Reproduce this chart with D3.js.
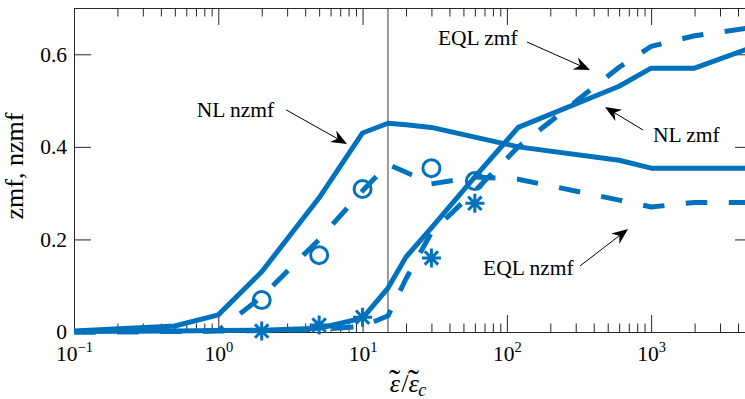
<!DOCTYPE html>
<html>
<head>
<meta charset="utf-8">
<script src="https://cdn.jsdelivr.net/npm/d3@7"></script>
<style>
  html, body { margin: 0; padding: 0; background: #fff; }
  svg { display: block; }
  text { font-family: "Liberation Serif", "Times New Roman", serif; fill: #000; }
</style>
</head>
<body>
<svg id="chart" width="745" height="399"></svg>
<script>
// Strain ratio sampled along each model curve
const strainRatio = [0.1, 0.5, 1, 2, 5, 10, 15, 20, 30, 60, 120, 600, 1000, 2000, 5000];

// Nonlinear model curves (solid)
const nlZmf  = [0.001, 0.002, 0.003, 0.004, 0.008, 0.030, 0.095, 0.162, 0.225, 0.335, 0.442, 0.531, 0.570, 0.570, 0.615];
const nlNzmf = [0.002, 0.013, 0.037, 0.130, 0.290, 0.430, 0.451, 0.448, 0.442, 0.421, 0.400, 0.371, 0.354, 0.354, 0.354];

// Equivalent-linear model curves (dashed)
const eqlZmf  = [0.000, 0.001, 0.002, 0.003, 0.006, 0.012, 0.035, 0.115, 0.215, 0.305, 0.400, 0.572, 0.617, 0.640, 0.658];
const eqlNzmf = [0.000, 0.001, 0.003, 0.076, 0.200, 0.305, 0.362, 0.345, 0.320, 0.335, 0.330, 0.285, 0.270, 0.280, 0.280];

// Discrete results shown as markers
const markerRatio = [2, 5, 10, 30, 60];
const eqlNzmfPts  = [0.069, 0.166, 0.309, 0.354, 0.326];   // circles
const eqlZmfPts   = [0.002, 0.015, 0.032, 0.160, 0.278];   // asterisks

// Reference strain ratio (vertical line)
const refRatio = 15;

// Axis ticks
const xMajorTicks = [0.1, 1, 10, 100, 1000];
const yTicks = [0, 0.2, 0.4, 0.6];
const yTickLabels = ["0", "0.2", "0.4", "0.6"];

// Curve annotations: label anchor, arrow start and arrow tip in data units
const notes = [
  { text: "NL nzmf",  at: [0.71, 0.4645], from: [2.95, 0.480], to: [7.8, 0.406] },
  { text: "EQL zmf",  at: [33.3, 0.620],  from: [138, 0.6265], to: [377, 0.566] },
  { text: "NL zmf",   at: [1030, 0.4105], from: [879, 0.4364], to: [479, 0.486] },
  { text: "EQL nzmf", at: [68.4, 0.123],  from: [321, 0.1426], to: [692, 0.2225] }
];

const blue = "#0072BD";
const axisColor = "#262626";
const plot = { left: 74, right: 752, top: 8, bottom: 332 };

const svg = d3.select("#chart");

const x = d3.scaleLog().domain([0.1, 5000]).range([plot.left, plot.right]);
const y = d3.scaleLinear().domain([0, 0.7]).range([plot.bottom, plot.top]);

// minor ticks 2..9 in each decade
const xMinorTicks = [];
for (let e = -1; e <= 3; e++) {
  for (let m = 2; m <= 9; m++) {
    const v = m * Math.pow(10, e);
    if (v <= 5000) xMinorTicks.push(v);
  }
}

function styleAxis(g) {
  g.selectAll("path.domain").attr("stroke", axisColor).attr("stroke-width", 1);
  g.selectAll(".tick line").attr("stroke", axisColor).attr("stroke-width", 1);
}

// reference line
svg.append("line")
  .attr("x1", x(refRatio)).attr("x2", x(refRatio))
  .attr("y1", plot.top).attr("y2", plot.bottom)
  .attr("stroke", "#3a3a3a").attr("stroke-width", 1);

// bottom axis
const gBottom = svg.append("g").attr("transform", `translate(0,${plot.bottom})`);
gBottom.append("g")
  .call(d3.axisBottom(x).tickValues(xMinorTicks).tickSize(-8.5).tickSizeOuter(0).tickFormat(""))
  .call(styleAxis);
const gBottomMajor = gBottom.append("g")
  .call(d3.axisBottom(x).tickValues(xMajorTicks).tickSize(-17).tickSizeOuter(0).tickPadding(0))
  .call(styleAxis);
gBottomMajor.selectAll(".tick text")
  .attr("font-size", 21.5)
  .attr("font-family", "Liberation Serif, Times New Roman, serif")
  .attr("fill", "#000")
  .attr("y", 29).attr("dy", 0)
  .each(function (d) {
    const t = d3.select(this);
    const expo = Math.round(Math.log10(d));
    t.text(null);
    t.append("tspan").text("10");
    t.append("tspan").attr("dy", -9).attr("font-size", 14.5)
      .text(expo < 0 ? "\u2212" + Math.abs(expo) : String(expo));
  });

// top axis
const gTop = svg.append("g").attr("transform", `translate(0,${plot.top})`);
gTop.append("g")
  .call(d3.axisTop(x).tickValues(xMinorTicks).tickSize(-8.5).tickSizeOuter(0).tickFormat(""))
  .call(styleAxis);
gTop.append("g")
  .call(d3.axisTop(x).tickValues(xMajorTicks).tickSize(-17).tickSizeOuter(0).tickFormat(""))
  .call(styleAxis);

// left axis
const gLeft = svg.append("g").attr("transform", `translate(${plot.left},0)`)
  .call(d3.axisLeft(y).tickValues(yTicks).tickSize(-17).tickSizeOuter(0).tickPadding(7)
    .tickFormat((d, i) => yTickLabels[i]))
  .call(styleAxis);
gLeft.selectAll(".tick text")
  .attr("font-size", 21.5)
  .attr("font-family", "Liberation Serif, Times New Roman, serif")
  .attr("fill", "#000");

// right axis
svg.append("g").attr("transform", `translate(${plot.right},0)`)
  .call(d3.axisRight(y).tickValues(yTicks).tickSize(-17).tickSizeOuter(0).tickFormat(""))
  .call(styleAxis);

// curves
const line = d3.line().x(d => x(d[0])).y(d => y(d[1]));
const zip = vals => strainRatio.map((r, i) => [r, vals[i]]);

const curves = [
  { vals: nlNzmf, dash: null },
  { vals: nlZmf, dash: null },
  { vals: eqlNzmf, dash: "21.5,21.5" },
  { vals: eqlZmf, dash: "21.5,21.5" }
];
svg.append("g").selectAll("path")
  .data(curves)
  .join("path")
  .attr("d", c => line(zip(c.vals)))
  .attr("fill", "none")
  .attr("stroke", blue)
  .attr("stroke-width", 5)
  .attr("stroke-linejoin", "round")
  .attr("stroke-dasharray", c => c.dash);

// circle markers
svg.append("g").selectAll("circle")
  .data(markerRatio.map((r, i) => [r, eqlNzmfPts[i]]))
  .join("circle")
  .attr("cx", d => x(d[0])).attr("cy", d => y(d[1]))
  .attr("r", 8.5)
  .attr("fill", "none").attr("stroke", blue).attr("stroke-width", 3);

// asterisk markers (plus and cross combined)
const star = "M0,-9.5V9.5M-9.5,0H9.5M-6.7,-6.7L6.7,6.7M-6.7,6.7L6.7,-6.7";
svg.append("g").selectAll("path")
  .data(markerRatio.map((r, i) => [r, eqlZmfPts[i]]))
  .join("path")
  .attr("transform", d => `translate(${x(d[0])},${y(d[1])})`)
  .attr("d", star)
  .attr("fill", "none").attr("stroke", blue).attr("stroke-width", 3);

// annotations
const gNotes = svg.append("g");
notes.forEach(n => {
  const x1 = x(n.from[0]), y1 = y(n.from[1]);
  const x2 = x(n.to[0]), y2 = y(n.to[1]);
  const ang = Math.atan2(y2 - y1, x2 - x1);
  const L = 16, W = 6.5, notch = 11;
  const cos = Math.cos(ang), sin = Math.sin(ang);
  const pt = (a, b) => [x2 + a * cos - b * sin, y2 + a * sin + b * cos];
  const back = pt(-notch, 0);
  gNotes.append("line")
    .attr("x1", x1).attr("y1", y1).attr("x2", back[0]).attr("y2", back[1])
    .attr("stroke", "#000").attr("stroke-width", 1);
  const p1 = pt(-L, -W), p2 = pt(-L, W);
  gNotes.append("path")
    .attr("d", `M${x2},${y2}L${p1[0]},${p1[1]}L${back[0]},${back[1]}L${p2[0]},${p2[1]}Z`)
    .attr("fill", "#000");
  gNotes.append("text")
    .attr("x", x(n.at[0])).attr("y", y(n.at[1]))
    .attr("font-size", 21.5)
    .text(n.text);
});

// y axis label
svg.append("text")
  .attr("transform", `translate(23,${(plot.top + plot.bottom) / 2 - 4}) rotate(-90)`)
  .attr("text-anchor", "middle")
  .attr("font-size", 26)
  .text("zmf, nzmf");

// x axis label: ~ε / ~ε_c, each tilde set back over its epsilon inside one text run
const xLabel = svg.append("text")
  .attr("x", (plot.left + plot.right) / 2 - 24)
  .attr("y", 392)
  .attr("font-size", 26);
const tildeEps = () => {
  xLabel.append("tspan").attr("font-style", "italic").text("\u03B5");
  xLabel.append("tspan").attr("font-size", 34).attr("dx", -11).attr("dy", 1).text("\u02DC");
};
tildeEps();
xLabel.append("tspan").attr("dx", 1).attr("dy", -1).text("/");
tildeEps();
xLabel.append("tspan").attr("font-style", "italic").attr("font-size", 18).attr("dx", -1).attr("dy", 3).text("c");
</script>
</body>
</html>
